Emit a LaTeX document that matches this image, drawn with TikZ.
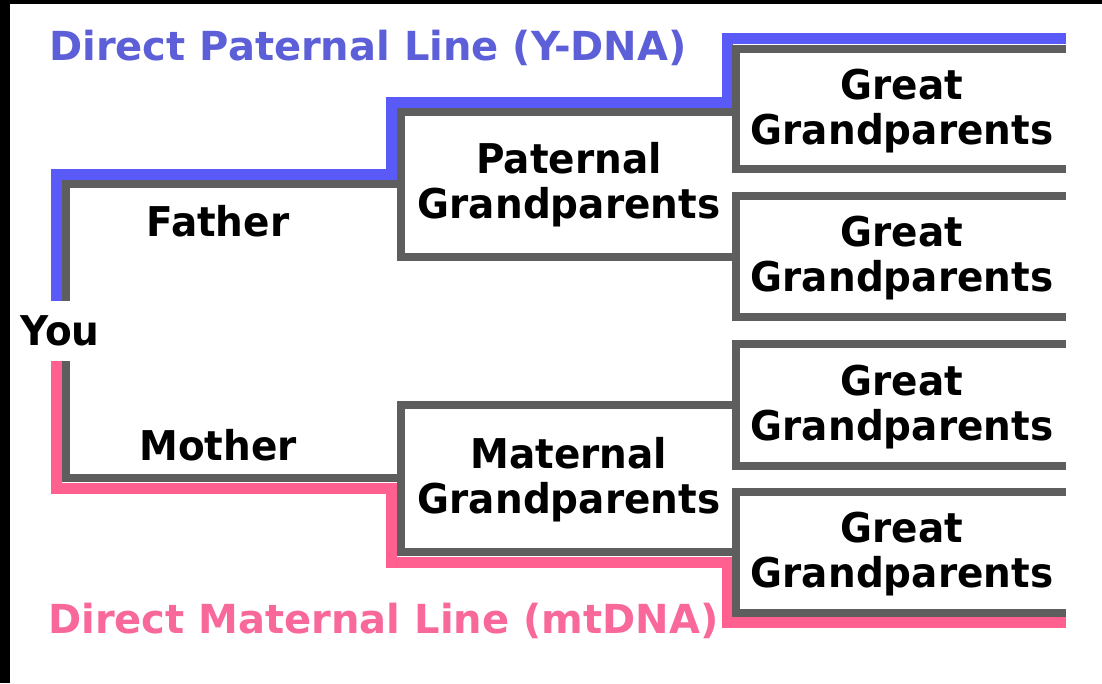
\documentclass[tikz,border=0pt]{standalone}
\usepackage{fontspec}
\newfontfamily\lblfont{DejaVu Sans}[FakeStretch=0.95]
\newfontfamily\ttlfont{DejaVu Sans}
\definecolor{lgray}{HTML}{5E5E5E}
\definecolor{ybl}{HTML}{5A5AF8}
\definecolor{ytx}{HTML}{5C5FD8}
\definecolor{mpk}{HTML}{FF6090}
\definecolor{mtx}{HTML}{F8689A}
\begin{document}
\begin{tikzpicture}[x=1pt,y=-1pt,
  gline/.style={draw=lgray,line width=8.5pt,line join=miter},
  bline/.style={draw=ybl,line width=11pt,line join=miter},
  pline/.style={draw=mpk,line width=11pt,line join=miter},
  lbl/.style={font=\lblfont\bfseries\fontsize{41}{45}\selectfont,align=center,inner sep=0pt,text=black},
  ttl/.style={font=\ttlfont\bfseries\fontsize{40}{45}\selectfont,inner sep=0pt,anchor=base west}]
\useasboundingbox (0,0) rectangle (1102,683);
\fill[white] (0,0) rectangle (1102,683);
\fill[black] (0,0) rectangle (10,683);
\fill[black] (0,0) rectangle (1102,4);
% coordinates
\coordinate (fTop) at (66,301);
\coordinate (mTop) at (66,361);
\coordinate (pgL) at (401,184);
\coordinate (mgL) at (401,478);
\coordinate (pgT) at (736,112);
\coordinate (pgB) at (736,257);
\coordinate (mgT) at (736,405);
\coordinate (mgB) at (736,552);
\coordinate (g1a) at (1066,49);  \coordinate (g1b) at (1066,169);
\coordinate (g2a) at (1066,196); \coordinate (g2b) at (1066,317);
\coordinate (g3a) at (1066,344); \coordinate (g3b) at (1066,466);
\coordinate (g4a) at (1066,492); \coordinate (g4b) at (1066,613);
\coordinate (yS) at (56,301);
\coordinate (yE) at (1066,38);
\coordinate (mS) at (56,361);
\coordinate (mE) at (1066,622);
% colored lines
\draw[bline] (yS) |- (391,174) |- (727,102) |- (yE);
\draw[pline] (mS) |- (391,488) |- (727,562) |- (mE);
% gray lines
\draw[gline] (fTop) |- (pgL);
\draw[gline] (mTop) |- (mgL);
\draw[gline] (pgT) -- (pgT -| pgL) -- (pgB -| pgL) -- (pgB);
\draw[gline] (mgT) -- (mgT -| mgL) -- (mgB -| mgL) -- (mgB);
\draw[gline] (g1a) -- (g1a -| pgT) -- (g1b -| pgT) -- (g1b);
\draw[gline] (g2a) -- (g2a -| pgT) -- (g2b -| pgT) -- (g2b);
\draw[gline] (g3a) -- (g3a -| pgT) -- (g3b -| pgT) -- (g3b);
\draw[gline] (g4a) -- (g4a -| pgT) -- (g4b -| pgT) -- (g4b);
% texts
\node[ttl,text=ytx] (ptitle) at (49,60) {Direct Paternal Line (Y-DNA)};
\node[ttl,text=mtx] (mtitle) at (48,633) {Direct Maternal Line (mtDNA)};
\node[lbl,anchor=base] (you) at (60,345) {You};
\node[lbl,anchor=base] (father) at (218,236) {Father};
\node[lbl,anchor=base] (mother) at (218,460) {Mother};
\node[lbl] (pg) at (569,185) {Paternal\\Grandparents};
\node[lbl] (mg) at (569,480) {Maternal\\Grandparents};
\node[lbl] (gg1) at (902,111) {Great\\Grandparents};
\node[lbl] (gg2) at (902,258) {Great\\Grandparents};
\node[lbl] (gg3) at (902,407) {Great\\Grandparents};
\node[lbl] (gg4) at (902,554) {Great\\Grandparents};
\end{tikzpicture}
\end{document}
